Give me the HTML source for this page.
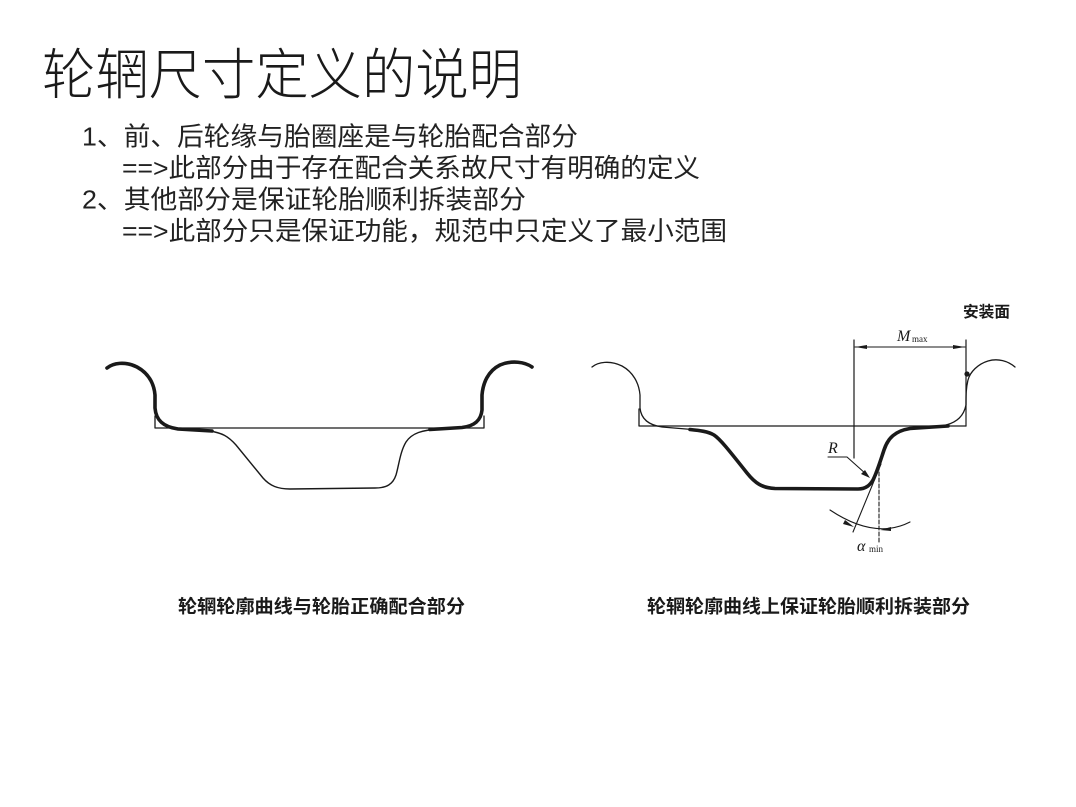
<!DOCTYPE html>
<html>
<head>
<meta charset="utf-8">
<style>
html,body{margin:0;padding:0;background:#fff;}
body{width:1076px;height:807px;overflow:hidden;position:relative;}
svg{position:absolute;left:0;top:0;}
.cjk{font-family:"Liberation Sans","Noto Sans CJK SC",sans-serif;}
</style>
</head>
<body>
<svg width="1076" height="807" viewBox="0 0 1076 807" xmlns="http://www.w3.org/2000/svg">
  <!-- Title -->
  <text class="cjk" x="42" y="94" font-size="55" font-weight="300" fill="#1a1a1a" textLength="480" lengthAdjust="spacingAndGlyphs">轮辋尺寸定义的说明</text>

  <!-- Body lines -->
  <g class="cjk" font-size="26" fill="#222">
    <text x="82" y="145.5" textLength="496" lengthAdjust="spacingAndGlyphs">1、前、后轮缘与胎圈座是与轮胎配合部分</text>
    <text x="122" y="177" textLength="578" lengthAdjust="spacingAndGlyphs">==&gt;此部分由于存在配合关系故尺寸有明确的定义</text>
    <text x="82" y="208.5" textLength="444" lengthAdjust="spacingAndGlyphs">2、其他部分是保证轮胎顺利拆装部分</text>
    <text x="122" y="240" textLength="605" lengthAdjust="spacingAndGlyphs">==&gt;此部分只是保证功能，规范中只定义了最小范围</text>
  </g>

  <!-- Left diagram -->
  <g fill="none" stroke="#1a1a1a" stroke-linecap="round" stroke-linejoin="round">
    <path d="M155 416 L155 428 L484 428 L484 416" stroke-width="1.3"/>
    <path d="M210 431 C222 433,228 436,236 445 L263 478 C270 486,278 489,290 489 L375 488 C387 488,393 484,396 475 C399 465,400 452,406 442 C412 433,422 430,440 429" stroke-width="1.4"/>
    <path d="M107 368 C113 363,125 361,137 367 C148 373,154 383,155 395 L155 408 C156 420,163 427,178 429 L212 431" stroke-width="3.6"/>
    <path d="M532 367 C525 362,512 360,500 365 C488 371,483 383,482 395 L482 410 C481 420,475 426,462 427.5 L430 429.5" stroke-width="3.6"/>
  </g>

  <!-- Right diagram -->
  <g fill="none" stroke="#1a1a1a" stroke-linecap="round" stroke-linejoin="round">
    <path d="M639 409 L639 426 L966 426" stroke-width="1.3"/>
    <line x1="966" y1="340" x2="966" y2="426" stroke-width="1.2"/>
    <line x1="854" y1="340" x2="854" y2="458" stroke-width="1.2"/>
    <line x1="855" y1="347" x2="965" y2="347" stroke-width="1.1"/>
    <path d="M592 367 C598 362,610 360,622 366 C633 372,639 383,640 395 L640 408 C641 418,648 425,662 427 L692 429.5" stroke-width="1.3"/>
    <path d="M1015 367 C1008 361,998 358,988 361 C978 364,970 372,968 380 C966 388,966 395,966 405 C964 415,958 422,946 425" stroke-width="1.3"/>
    <path d="M690 429.5 C700 430.5,708 431.5,714 435 C720 439,728 449,747 473 C755 483,762 488,775 488.5 L858 489 C866 489,870 485,873 480 C877 472,880 462,884 450 C888 438,895 431,910 428.5 L948 426" stroke-width="3.6"/>
    <path d="M828 457 L847 457 L866 474" stroke-width="1.1"/>
    <line x1="853" y1="532" x2="881" y2="464" stroke-width="1.1"/>
    <line x1="879" y1="466" x2="879" y2="542" stroke-width="1.1" stroke-dasharray="4 2"/>
    <path d="M830 510 Q875 540 910 522" stroke-width="1.1"/>
  </g>
  <g fill="#1a1a1a" stroke="none">
    <polygon points="855,347 867,345 867,349"/>
    <polygon points="965,347 953,345 953,349"/>
    <polygon points="870,478 861,474 865,470"/>
    <polygon points="854,527 843,524 845,520"/>
    <polygon points="880,530 891,527 891,531"/>
    <circle cx="967" cy="374" r="2.6"/>
  </g>

  <g font-family="Liberation Serif, serif" fill="#1a1a1a">
    <text x="897" y="341" font-size="16" font-style="italic">M</text>
    <text x="912" y="342" font-size="9">max</text>
    <text x="828" y="453" font-size="16" font-style="italic">R</text>
    <text x="857" y="551" font-size="16" font-style="italic">α</text>
    <text x="869" y="552" font-size="9">min</text>
  </g>
  <text class="cjk" x="963" y="317" font-size="15.5" font-weight="bold" fill="#1a1a1a" textLength="47" lengthAdjust="spacingAndGlyphs">安装面</text>

  <g class="cjk" font-size="18.5" font-weight="bold" fill="#1a1a1a">
    <text x="178" y="613" textLength="287" lengthAdjust="spacingAndGlyphs">轮辋轮廓曲线与轮胎正确配合部分</text>
    <text x="647" y="613" textLength="323" lengthAdjust="spacingAndGlyphs">轮辋轮廓曲线上保证轮胎顺利拆装部分</text>
  </g>
</svg>
</body>
</html>
